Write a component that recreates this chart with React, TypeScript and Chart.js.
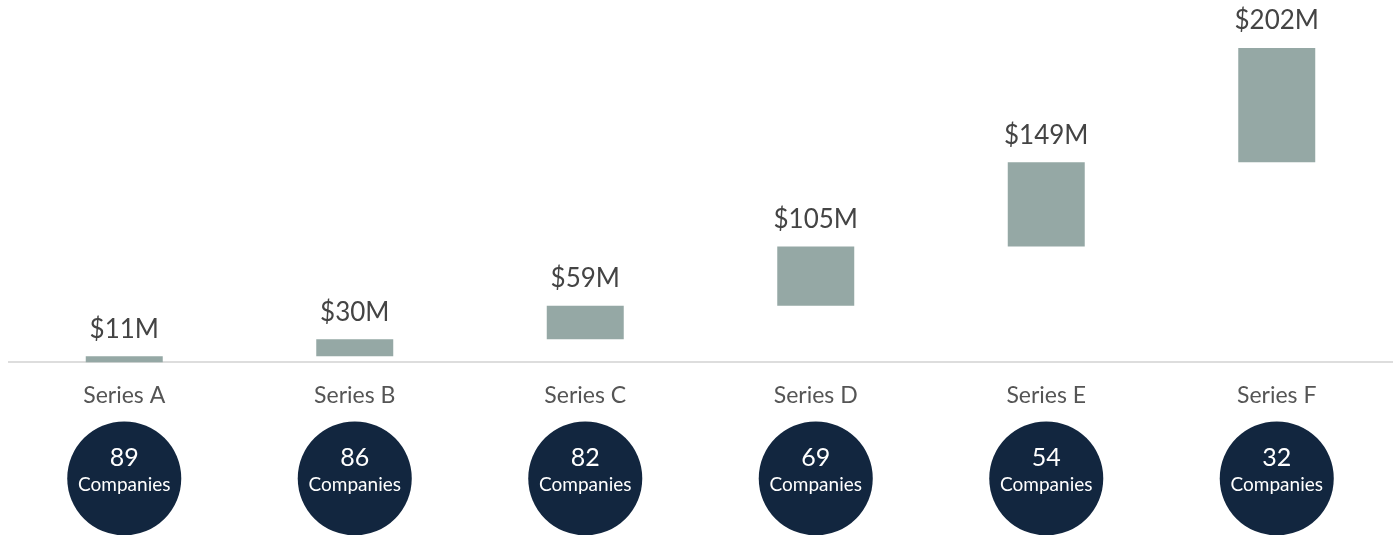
import React, { useEffect, useRef } from "react";
import { Chart, registerables } from "chart.js";

Chart.register(...registerables);

const categories = ["Series A", "Series B", "Series C", "Series D", "Series E", "Series F"];
const amounts = [11, 30, 59, 105, 149, 202];
const totalLabels = ["$11M", "$30M", "$59M", "$105M", "$149M", "$202M"];
const companyCounts = [89, 86, 82, 69, 54, 32];

const FONT = "Lato, 'Noto Sans', sans-serif";

export default function App() {
  const ref = useRef<HTMLCanvasElement | null>(null);

  useEffect(() => {
    document.body.style.margin = "0";
    const floating: [number, number][] = [];
    let acc = 0;
    for (const a of amounts) {
      floating.push([acc, acc + a]);
      acc += a;
    }

    const labelPlugin = {
      id: "labels",
      afterDatasetsDraw(chart: any) {
        const ctx = chart.ctx;
        const meta = chart.getDatasetMeta(0);
        ctx.save();
        ctx.fillStyle = "#444444";
        ctx.font = `26px ${FONT}`;
        ctx.textAlign = "center";
        ctx.textBaseline = "middle";
        meta.data.forEach((bar: any, i: number) => {
          ctx.fillText(totalLabels[i], bar.x, bar.y - 27);
        });
        ctx.restore();
      },
    };

    const circlePlugin = {
      id: "circles",
      afterDraw(chart: any) {
        const ctx = chart.ctx;
        const xs = chart.scales.x;
        const cy = chart.chartArea.bottom + 116;
        ctx.save();
        companyCounts.forEach((n, i) => {
          const cx = xs.getPixelForValue(i);
          ctx.beginPath();
          ctx.arc(cx, cy, 57, 0, Math.PI * 2);
          ctx.fillStyle = "#12263f";
          ctx.fill();
          ctx.fillStyle = "#ffffff";
          ctx.textAlign = "center";
          ctx.textBaseline = "middle";
          ctx.font = `25px ${FONT}`;
          ctx.fillText(String(n), cx, cy - 20);
          ctx.font = `19px ${FONT}`;
          ctx.fillText("Companies", cx, cy + 6);
        });
        ctx.restore();
      },
    };

    const chart = new Chart(ref.current!, {
      type: "bar",
      data: {
        labels: categories,
        datasets: [
          {
            data: floating as any,
            backgroundColor: "#95a8a5",
            borderWidth: 0,
            categoryPercentage: 0.334,
            barPercentage: 1,
          },
        ],
      },
      options: {
        animation: false,
        responsive: false,
        maintainAspectRatio: false,
        layout: { padding: { top: 34.5, left: 9, right: 5, bottom: 107 } },
        plugins: { legend: { display: false }, tooltip: { enabled: false } },
        scales: {
          x: {
            grid: { display: false, drawTicks: false },
            border: { display: true, color: "#dddddd", width: 2 },
            ticks: {
              padding: 19,
              color: "#555555",
              font: { family: FONT, size: 23 },
            },
          },
          y: {
            display: false,
            min: 0,
            max: 580,
          },
        },
      },
      plugins: [labelPlugin, circlePlugin],
    });
    return () => chart.destroy();
  }, []);

  return (
    <div style={{ position: "fixed", left: 0, top: 0, width: 1397, height: 535 }}>
      <canvas ref={ref} width={1397} height={535} style={{ width: 1397, height: 535 }} />
    </div>
  );
}
